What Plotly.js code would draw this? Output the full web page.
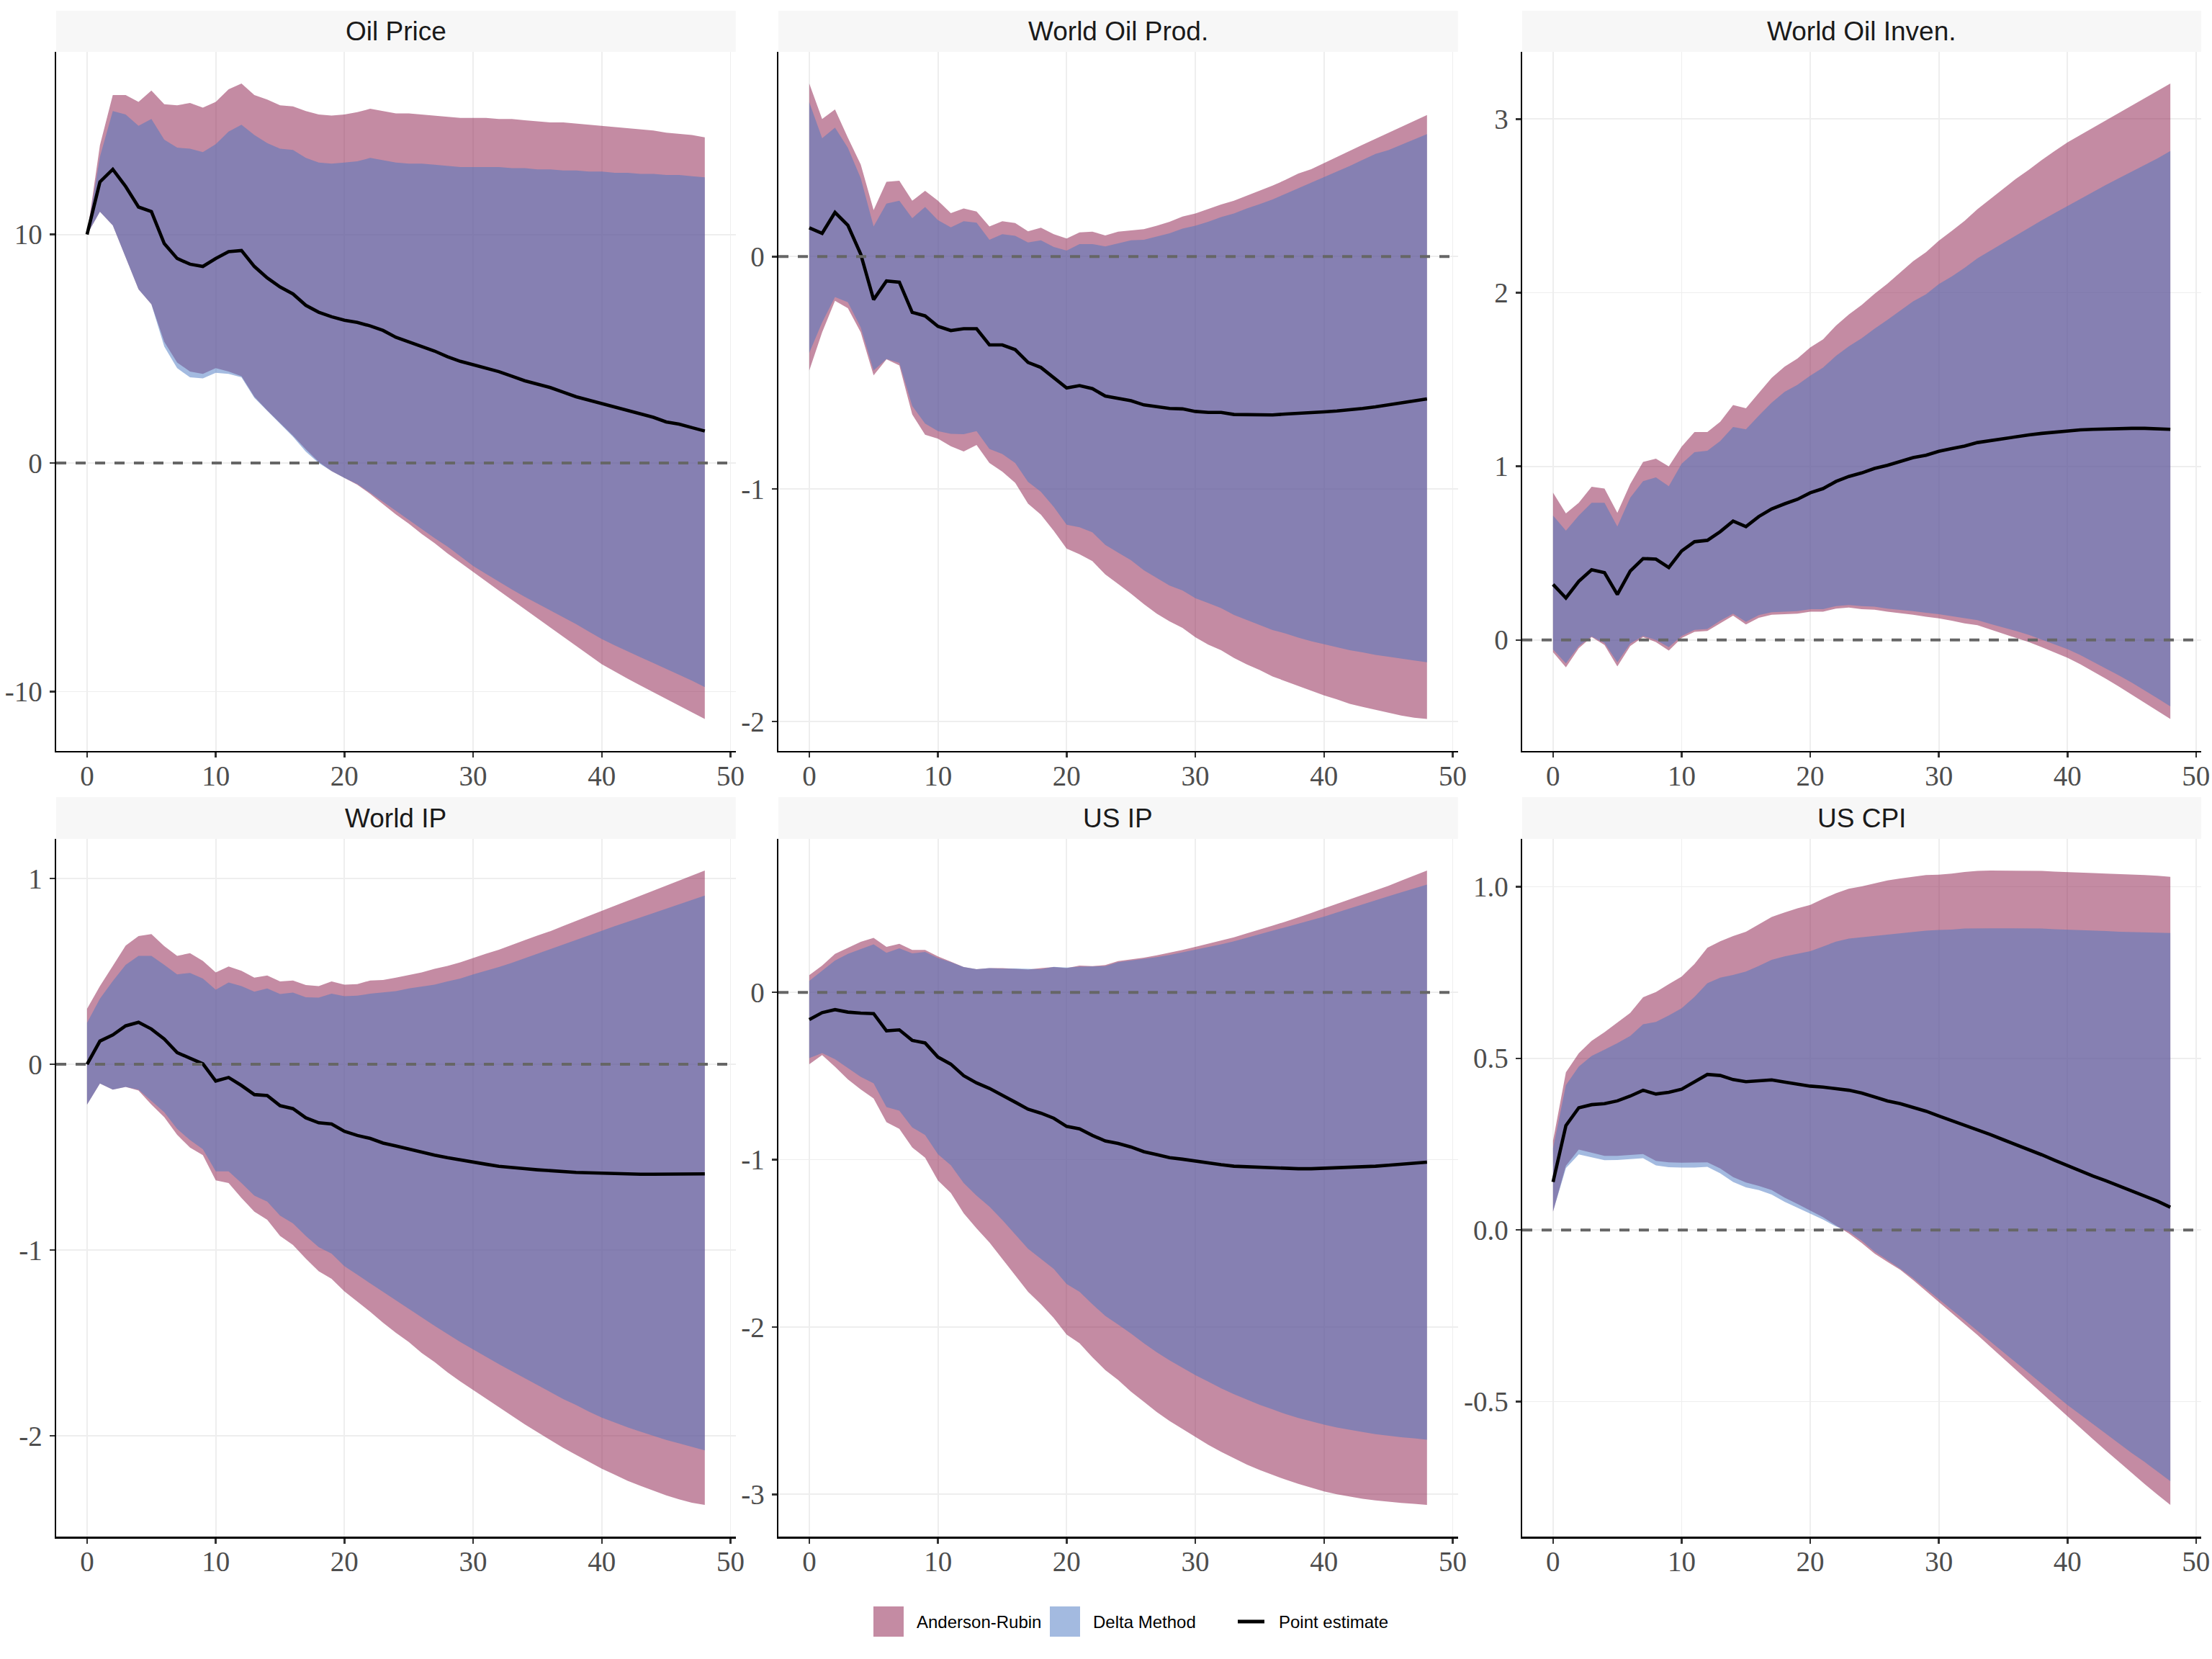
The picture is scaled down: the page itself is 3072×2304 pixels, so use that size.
<!DOCTYPE html>
<html><head><meta charset="utf-8">
<script src="https://cdn.plot.ly/plotly-3.0.1.min.js"></script>
<style>html,body{margin:0;padding:0;background:#fff;}#chart{width:3072px;height:2304px;}</style>
</head><body><div id="chart"></div>
<script>
// ---------------- DATA ----------------
const horizon = [0,1,2,3,4,5,6,7,8,9,10,11,12,13,14,15,16,17,18,19,20,21,22,23,24,25,26,27,28,29,30,31,32,33,34,35,36,37,38,39,40,41,42,43,44,45,46,47,48];
const xTickVals = [0,10,20,30,40,50];
const xTickText = ['0','10','20','30','40','50'];
const panelTitles = ['Oil Price','World Oil Prod.','World Oil Inven.','World IP','US IP','US CPI'];
const legendLabels = ['Anderson-Rubin','Delta Method','Point estimate'];

// Oil Price
const oilPrice_pt   = [10.0,12.3,12.85,12.1,11.2,11.0,9.6,8.95,8.7,8.6,8.95,9.25,9.3,8.6,8.1,7.7,7.4,6.9,6.6,6.4,6.25,6.15,6.0,5.8,5.5,5.3,5.1,4.9,4.65,4.45,4.3,4.15,4.0,3.8,3.6,3.45,3.3,3.1,2.9,2.75,2.6,2.45,2.3,2.15,2.0,1.8,1.7,1.55,1.4];
const oilPrice_arHi = [10.0,13.9,16.1,16.1,15.8,16.3,15.7,15.65,15.75,15.55,15.8,16.35,16.6,16.1,15.9,15.65,15.6,15.4,15.25,15.2,15.25,15.35,15.5,15.4,15.3,15.3,15.25,15.2,15.15,15.1,15.1,15.1,15.05,15.05,15.0,14.95,14.9,14.9,14.85,14.8,14.75,14.7,14.65,14.6,14.55,14.45,14.4,14.35,14.25];
const oilPrice_arLo = [10.0,11.0,10.4,9.0,7.6,6.95,5.3,4.4,4.0,3.9,4.15,4.0,3.8,2.9,2.3,1.75,1.2,0.6,0.05,-0.35,-0.65,-0.95,-1.35,-1.8,-2.25,-2.65,-3.1,-3.5,-3.95,-4.35,-4.75,-5.17,-5.58,-5.99,-6.4,-6.8,-7.2,-7.6,-7.99,-8.4,-8.8,-9.12,-9.43,-9.73,-10.03,-10.33,-10.62,-10.91,-11.2];
const oilPrice_dmHi = [10.0,13.4,15.4,15.25,14.75,15.05,14.15,13.8,13.75,13.6,13.95,14.5,14.8,14.35,14.0,13.75,13.7,13.35,13.15,13.1,13.15,13.2,13.35,13.25,13.15,13.1,13.1,13.05,13.0,12.95,12.95,12.95,12.95,12.9,12.9,12.85,12.85,12.8,12.8,12.75,12.75,12.7,12.7,12.65,12.65,12.6,12.6,12.55,12.5];
const oilPrice_dmLo = [10.0,11.0,10.4,9.0,7.6,6.95,5.1,4.15,3.75,3.7,3.95,3.9,3.75,2.85,2.3,1.72,1.15,0.5,0.0,-0.35,-0.65,-0.92,-1.3,-1.7,-2.1,-2.5,-2.9,-3.28,-3.65,-4.08,-4.5,-4.85,-5.2,-5.53,-5.85,-6.15,-6.45,-6.75,-7.05,-7.38,-7.7,-7.98,-8.25,-8.5,-8.75,-9.0,-9.25,-9.52,-9.8];
const oilPrice_tickVals = [-10,0,10];
const oilPrice_tickText = ['-10','0','10'];

// World Oil Prod.
const oilProd_pt   = [0.124,0.10,0.19,0.135,0.01,-0.185,-0.105,-0.11,-0.24,-0.255,-0.30,-0.318,-0.31,-0.31,-0.38,-0.38,-0.40,-0.455,-0.477,-0.52,-0.565,-0.555,-0.568,-0.60,-0.61,-0.62,-0.638,-0.646,-0.653,-0.655,-0.666,-0.67,-0.67,-0.679,-0.679,-0.679,-0.681,-0.677,-0.675,-0.672,-0.668,-0.664,-0.66,-0.653,-0.646,-0.638,-0.630,-0.621,-0.612];
const oilProd_arHi = [0.744,0.592,0.633,0.511,0.396,0.20,0.322,0.326,0.24,0.283,0.24,0.187,0.207,0.194,0.13,0.152,0.144,0.109,0.124,0.096,0.078,0.104,0.107,0.091,0.107,0.113,0.118,0.133,0.15,0.172,0.185,0.205,0.224,0.24,0.261,0.283,0.305,0.33,0.357,0.376,0.403,0.429,0.455,0.481,0.507,0.533,0.559,0.583,0.609];
const oilProd_arLo = [-0.49,-0.326,-0.19,-0.222,-0.326,-0.511,-0.442,-0.468,-0.679,-0.766,-0.783,-0.816,-0.838,-0.81,-0.888,-0.925,-0.973,-1.063,-1.11,-1.18,-1.256,-1.28,-1.31,-1.367,-1.408,-1.45,-1.495,-1.536,-1.569,-1.597,-1.637,-1.669,-1.693,-1.726,-1.754,-1.778,-1.806,-1.826,-1.845,-1.867,-1.887,-1.904,-1.924,-1.937,-1.95,-1.963,-1.974,-1.983,-1.989];
const oilProd_dmHi = [0.664,0.509,0.555,0.468,0.337,0.13,0.228,0.24,0.165,0.213,0.157,0.126,0.152,0.146,0.072,0.096,0.089,0.061,0.07,0.041,0.026,0.054,0.054,0.044,0.057,0.07,0.072,0.087,0.10,0.12,0.133,0.15,0.17,0.185,0.207,0.226,0.246,0.27,0.294,0.316,0.342,0.366,0.39,0.416,0.442,0.458,0.481,0.504,0.527];
const oilProd_dmLo = [-0.414,-0.283,-0.174,-0.196,-0.305,-0.49,-0.44,-0.457,-0.642,-0.718,-0.751,-0.762,-0.764,-0.751,-0.827,-0.849,-0.888,-0.969,-1.012,-1.077,-1.153,-1.164,-1.186,-1.24,-1.273,-1.306,-1.349,-1.382,-1.415,-1.436,-1.469,-1.49,-1.512,-1.541,-1.562,-1.584,-1.606,-1.621,-1.639,-1.654,-1.667,-1.68,-1.693,-1.702,-1.713,-1.721,-1.73,-1.737,-1.745];
const oilProd_tickVals = [-2,-1,0];
const oilProd_tickText = ['-2','-1','0'];

// World Oil Inven.
const oilInv_pt   = [0.32,0.242,0.338,0.405,0.388,0.262,0.397,0.469,0.466,0.417,0.513,0.566,0.574,0.624,0.685,0.653,0.711,0.755,0.784,0.81,0.848,0.872,0.913,0.942,0.962,0.988,1.006,1.029,1.05,1.064,1.087,1.102,1.117,1.137,1.149,1.16,1.172,1.181,1.19,1.198,1.204,1.21,1.213,1.216,1.219,1.219,1.219,1.216,1.213];
const oilInv_arHi = [0.848,0.729,0.79,0.883,0.872,0.732,0.898,1.026,1.044,1.0,1.114,1.198,1.198,1.257,1.353,1.335,1.423,1.51,1.574,1.621,1.685,1.732,1.81,1.875,1.93,1.994,2.052,2.117,2.181,2.233,2.3,2.356,2.414,2.481,2.539,2.595,2.656,2.708,2.764,2.816,2.866,2.908,2.95,2.993,3.035,3.077,3.12,3.162,3.204];
const oilInv_arLo = [-0.07,-0.157,-0.047,0.017,-0.029,-0.152,-0.035,0.017,-0.012,-0.061,0.012,0.047,0.052,0.096,0.14,0.09,0.128,0.146,0.149,0.152,0.163,0.163,0.181,0.187,0.178,0.175,0.163,0.155,0.146,0.134,0.125,0.111,0.096,0.085,0.061,0.038,0.015,-0.012,-0.041,-0.07,-0.102,-0.14,-0.181,-0.224,-0.268,-0.315,-0.362,-0.408,-0.455];
const oilInv_dmHi = [0.717,0.63,0.717,0.79,0.79,0.653,0.819,0.915,0.936,0.886,1.015,1.082,1.09,1.146,1.227,1.213,1.292,1.367,1.429,1.469,1.522,1.569,1.636,1.691,1.738,1.793,1.843,1.898,1.95,1.991,2.05,2.093,2.143,2.198,2.242,2.286,2.332,2.373,2.417,2.458,2.499,2.539,2.58,2.621,2.659,2.697,2.735,2.773,2.816];
const oilInv_dmLo = [-0.055,-0.134,-0.035,0.02,-0.017,-0.128,-0.02,0.023,0.0,-0.041,0.023,0.058,0.064,0.111,0.152,0.105,0.143,0.16,0.163,0.166,0.178,0.178,0.195,0.201,0.195,0.192,0.181,0.175,0.166,0.157,0.149,0.137,0.125,0.114,0.093,0.073,0.052,0.029,0.003,-0.023,-0.052,-0.087,-0.125,-0.163,-0.204,-0.245,-0.289,-0.335,-0.382];
const oilInv_tickVals = [0,1,2,3];
const oilInv_tickText = ['0','1','2','3'];

// World IP
const worldIP_pt   = [0,0.125,0.158,0.207,0.226,0.19,0.136,0.063,0.033,0.003,-0.09,-0.071,-0.114,-0.163,-0.168,-0.223,-0.239,-0.288,-0.315,-0.321,-0.361,-0.383,-0.399,-0.424,-0.44,-0.457,-0.476,-0.489,-0.503,-0.516,-0.527,-0.538,-0.549,-0.557,-0.562,-0.568,-0.573,-0.579,-0.582,-0.584,-0.587,-0.59,-0.59,-0.592,-0.592,-0.592,-0.592,-0.59,-0.59];
const worldIP_arHi = [0.299,0.421,0.53,0.639,0.69,0.701,0.636,0.584,0.598,0.557,0.495,0.527,0.503,0.467,0.478,0.446,0.451,0.427,0.421,0.446,0.429,0.432,0.451,0.454,0.467,0.481,0.495,0.514,0.53,0.549,0.573,0.595,0.617,0.644,0.668,0.693,0.717,0.745,0.772,0.799,0.826,0.853,0.88,0.908,0.935,0.962,0.989,1.016,1.043];
const worldIP_arLo = [-0.217,-0.103,-0.136,-0.122,-0.141,-0.217,-0.285,-0.38,-0.448,-0.489,-0.625,-0.639,-0.72,-0.793,-0.837,-0.924,-0.973,-1.046,-1.114,-1.155,-1.223,-1.277,-1.332,-1.391,-1.446,-1.495,-1.554,-1.603,-1.658,-1.707,-1.753,-1.802,-1.848,-1.894,-1.938,-1.981,-2.024,-2.065,-2.103,-2.141,-2.177,-2.209,-2.242,-2.269,-2.296,-2.321,-2.342,-2.361,-2.372];
const worldIP_dmHi = [0.223,0.353,0.448,0.535,0.584,0.584,0.535,0.484,0.492,0.462,0.402,0.44,0.421,0.391,0.408,0.378,0.386,0.361,0.359,0.38,0.367,0.37,0.38,0.386,0.394,0.408,0.418,0.429,0.446,0.462,0.484,0.503,0.524,0.546,0.571,0.595,0.62,0.644,0.671,0.696,0.72,0.744,0.767,0.79,0.814,0.838,0.861,0.885,0.908];
const worldIP_dmLo = [-0.217,-0.103,-0.136,-0.122,-0.136,-0.196,-0.258,-0.348,-0.408,-0.457,-0.576,-0.576,-0.639,-0.707,-0.739,-0.815,-0.856,-0.924,-0.984,-1.019,-1.087,-1.133,-1.179,-1.226,-1.272,-1.318,-1.364,-1.408,-1.451,-1.495,-1.535,-1.576,-1.614,-1.652,-1.69,-1.728,-1.766,-1.802,-1.834,-1.87,-1.902,-1.929,-1.954,-1.978,-2.0,-2.022,-2.041,-2.06,-2.079];
const worldIP_tickVals = [-2,-1,0,1];
const worldIP_tickText = ['-2','-1','0','1'];

// US IP
const usIP_pt   = [-0.163,-0.121,-0.103,-0.118,-0.124,-0.127,-0.23,-0.224,-0.287,-0.302,-0.387,-0.429,-0.498,-0.541,-0.574,-0.613,-0.656,-0.698,-0.722,-0.752,-0.801,-0.816,-0.855,-0.888,-0.903,-0.924,-0.952,-0.97,-0.988,-0.997,-1.009,-1.021,-1.03,-1.039,-1.042,-1.048,-1.051,-1.054,-1.054,-1.054,-1.051,-1.048,-1.048,-1.042,-1.039,-1.033,-1.027,-1.021,-1.015];
const usIP_arHi = [0.103,0.16,0.23,0.266,0.302,0.326,0.272,0.29,0.254,0.254,0.215,0.184,0.151,0.139,0.145,0.145,0.142,0.136,0.145,0.151,0.145,0.16,0.157,0.163,0.187,0.196,0.208,0.221,0.236,0.254,0.272,0.29,0.308,0.329,0.353,0.375,0.399,0.423,0.447,0.474,0.502,0.529,0.556,0.583,0.61,0.637,0.668,0.698,0.728];
const usIP_arLo = [-0.429,-0.375,-0.444,-0.52,-0.58,-0.634,-0.776,-0.816,-0.927,-0.988,-1.124,-1.199,-1.32,-1.411,-1.495,-1.592,-1.692,-1.789,-1.864,-1.946,-2.045,-2.097,-2.181,-2.257,-2.317,-2.387,-2.447,-2.508,-2.562,-2.61,-2.659,-2.704,-2.746,-2.785,-2.822,-2.855,-2.885,-2.912,-2.937,-2.961,-2.982,-3.0,-3.015,-3.027,-3.036,-3.045,-3.051,-3.057,-3.063];
const usIP_dmHi = [0.069,0.13,0.19,0.23,0.26,0.287,0.236,0.263,0.233,0.242,0.205,0.181,0.151,0.139,0.145,0.142,0.143,0.14,0.139,0.153,0.148,0.154,0.154,0.157,0.181,0.19,0.199,0.211,0.224,0.239,0.254,0.269,0.287,0.305,0.326,0.347,0.366,0.387,0.408,0.432,0.453,0.477,0.502,0.526,0.55,0.574,0.598,0.622,0.644];
const usIP_dmLo = [-0.393,-0.363,-0.399,-0.453,-0.505,-0.544,-0.686,-0.707,-0.807,-0.852,-0.967,-1.033,-1.139,-1.215,-1.281,-1.36,-1.444,-1.532,-1.592,-1.653,-1.743,-1.789,-1.864,-1.934,-1.985,-2.039,-2.097,-2.151,-2.199,-2.242,-2.287,-2.326,-2.366,-2.402,-2.435,-2.465,-2.492,-2.52,-2.544,-2.565,-2.583,-2.601,-2.616,-2.628,-2.64,-2.65,-2.659,-2.665,-2.674];
const usIP_tickVals = [-3,-2,-1,0];
const usIP_tickText = ['-3','-2','-1','0'];

// US CPI
const usCPI_pt   = [0.14,0.304,0.356,0.365,0.368,0.376,0.39,0.407,0.396,0.401,0.41,0.431,0.453,0.45,0.438,0.432,0.434,0.437,0.431,0.425,0.419,0.416,0.412,0.407,0.399,0.387,0.376,0.368,0.357,0.346,0.332,0.319,0.306,0.293,0.278,0.263,0.249,0.234,0.219,0.203,0.187,0.172,0.157,0.143,0.128,0.113,0.099,0.084,0.066];
const usCPI_arHi = [0.26,0.459,0.515,0.551,0.576,0.604,0.632,0.678,0.693,0.716,0.738,0.775,0.822,0.841,0.856,0.869,0.89,0.912,0.925,0.937,0.947,0.965,0.981,0.994,1.001,1.009,1.018,1.024,1.029,1.034,1.035,1.038,1.043,1.046,1.047,1.047,1.046,1.046,1.046,1.044,1.043,1.041,1.04,1.038,1.037,1.035,1.034,1.032,1.029];
const usCPI_arLo = [0.054,0.187,0.234,0.225,0.216,0.216,0.219,0.221,0.201,0.197,0.196,0.196,0.197,0.179,0.154,0.138,0.128,0.116,0.094,0.076,0.057,0.037,0.013,-0.01,-0.038,-0.069,-0.093,-0.116,-0.146,-0.178,-0.21,-0.24,-0.272,-0.306,-0.34,-0.374,-0.407,-0.441,-0.475,-0.509,-0.543,-0.576,-0.61,-0.643,-0.676,-0.709,-0.74,-0.771,-0.801];
const usCPI_dmHi = [0.238,0.422,0.476,0.507,0.525,0.544,0.565,0.599,0.606,0.625,0.646,0.679,0.719,0.735,0.743,0.753,0.769,0.787,0.797,0.804,0.812,0.826,0.84,0.849,0.853,0.856,0.86,0.865,0.869,0.872,0.874,0.875,0.878,0.879,0.879,0.879,0.879,0.878,0.878,0.876,0.875,0.874,0.872,0.871,0.869,0.868,0.868,0.866,0.865];
const usCPI_dmLo = [0.054,0.18,0.22,0.212,0.203,0.204,0.207,0.209,0.188,0.183,0.182,0.182,0.184,0.165,0.14,0.124,0.116,0.103,0.082,0.065,0.048,0.03,0.01,-0.005,-0.031,-0.063,-0.088,-0.113,-0.141,-0.171,-0.203,-0.232,-0.263,-0.294,-0.325,-0.356,-0.387,-0.418,-0.449,-0.479,-0.51,-0.538,-0.566,-0.594,-0.622,-0.65,-0.676,-0.704,-0.732];
const usCPI_tickVals = [-0.5,0,0.5,1.0];
const usCPI_tickText = ['-0.5','0.0','0.5','1.0'];

// ---------------- STYLE ----------------
const W = 3072, H = 2304;
const AR_FILL = 'rgba(137,23,71,0.5)';
const DM_FILL = 'rgba(71,117,193,0.5)';
const colPx = [[78,1021.7],[1081,2024.7],[2114,3057]];
const rowPx = [[72,1042.7],[1165,2134]];
const stripPx = [[15,72],[1107,1165]];
const SERIF = 'Liberation Serif';
const SANS = 'Liberation Sans';

const panels = [
  {pt:oilPrice_pt, arHi:oilPrice_arHi, arLo:oilPrice_arLo, dmHi:oilPrice_dmHi, dmLo:oilPrice_dmLo, tv:oilPrice_tickVals, tt:oilPrice_tickText},
  {pt:oilProd_pt, arHi:oilProd_arHi, arLo:oilProd_arLo, dmHi:oilProd_dmHi, dmLo:oilProd_dmLo, tv:oilProd_tickVals, tt:oilProd_tickText},
  {pt:oilInv_pt, arHi:oilInv_arHi, arLo:oilInv_arLo, dmHi:oilInv_dmHi, dmLo:oilInv_dmLo, tv:oilInv_tickVals, tt:oilInv_tickText},
  {pt:worldIP_pt, arHi:worldIP_arHi, arLo:worldIP_arLo, dmHi:worldIP_dmHi, dmLo:worldIP_dmLo, tv:worldIP_tickVals, tt:worldIP_tickText},
  {pt:usIP_pt, arHi:usIP_arHi, arLo:usIP_arLo, dmHi:usIP_dmHi, dmLo:usIP_dmLo, tv:usIP_tickVals, tt:usIP_tickText},
  {pt:usCPI_pt, arHi:usCPI_arHi, arLo:usCPI_arLo, dmHi:usCPI_dmHi, dmLo:usCPI_dmLo, tv:usCPI_tickVals, tt:usCPI_tickText}
];

const traces = [];
const layout = {
  width: W, height: H,
  margin: {l:0, r:0, t:0, b:0},
  paper_bgcolor: '#ffffff', plot_bgcolor: '#ffffff',
  showlegend: false,
  shapes: [], annotations: []
};

const xmin = Math.min(...horizon), xmax = Math.max(...horizon);
const xpad = (xmax - xmin) * 0.05;

panels.forEach((p, i) => {
  const r = Math.floor(i / 3), c = i % 3;
  const n = i + 1;
  const xa = n === 1 ? 'x' : 'x' + n;
  const ya = n === 1 ? 'y' : 'y' + n;
  const xk = n === 1 ? 'xaxis' : 'xaxis' + n;
  const yk = n === 1 ? 'yaxis' : 'yaxis' + n;
  const base = {x: horizon, xaxis: xa, yaxis: ya, type: 'scatter', mode: 'lines', hoverinfo: 'skip'};
  traces.push(Object.assign({}, base, {y: p.arLo, line: {width: 0, color: 'rgba(0,0,0,0)'}}));
  traces.push(Object.assign({}, base, {y: p.arHi, line: {width: 0, color: 'rgba(0,0,0,0)'}, fill: 'tonexty', fillcolor: AR_FILL}));
  traces.push(Object.assign({}, base, {y: p.dmLo, line: {width: 0, color: 'rgba(0,0,0,0)'}}));
  traces.push(Object.assign({}, base, {y: p.dmHi, line: {width: 0, color: 'rgba(0,0,0,0)'}, fill: 'tonexty', fillcolor: DM_FILL}));
  traces.push(Object.assign({}, base, {y: p.pt, line: {width: 4.6, color: '#000000'}}));

  const all = [].concat(p.pt, p.arHi, p.arLo, p.dmHi, p.dmLo);
  const ymin = Math.min(...all), ymax = Math.max(...all);
  const ypad = (ymax - ymin) * 0.05;

  const xd = [colPx[c][0] / W, colPx[c][1] / W];
  const yd = [1 - rowPx[r][1] / H, 1 - rowPx[r][0] / H];
  const axCommon = {
    showline: true, linecolor: '#000000', linewidth: 2.5,
    ticks: 'outside', ticklen: 7, tickwidth: 2.5, tickcolor: '#333333',
    showgrid: true, gridcolor: '#EEEEEE', gridwidth: 1.8,
    zeroline: false, tickmode: 'array',
    tickfont: {family: SERIF, size: 39, color: '#4D4D4D'},
    fixedrange: true
  };
  layout[xk] = Object.assign({}, axCommon, {
    domain: xd, anchor: ya, range: [xmin - xpad, xmax + xpad],
    tickvals: xTickVals, ticktext: xTickText, ticklabelstandoff: -8
  });
  layout[yk] = Object.assign({}, axCommon, {
    domain: yd, anchor: xa, range: [ymin - ypad, ymax + ypad],
    tickvals: p.tv, ticktext: p.tt, ticklabelstandoff: 2
  });

  // zero reference line
  layout.shapes.push({
    type: 'line', xref: xa + ' domain', yref: ya, x0: 0, x1: 1, y0: 0, y1: 0,
    line: {color: '#666666', width: 4, dash: '14px,13px'}, layer: 'above'
  });
  // strip background
  layout.shapes.push({
    type: 'rect', xref: 'paper', yref: 'paper',
    x0: xd[0], x1: xd[1], y0: 1 - stripPx[r][1] / H, y1: 1 - stripPx[r][0] / H,
    fillcolor: '#F7F7F7', line: {width: 0}, layer: 'below'
  });
  layout.annotations.push({
    xref: 'paper', yref: 'paper', x: (xd[0] + xd[1]) / 2,
    y: 1 - (stripPx[r][0] + stripPx[r][1]) / 2 / H,
    xanchor: 'center', yanchor: 'middle', showarrow: false,
    text: panelTitles[i], font: {family: SANS, size: 37, color: '#1A1A1A'}
  });
});

// legend (drawn manually to match keys)
const legY = 2252;
const keyRects = [[1213, 1255, AR_FILL], [1458, 1500, DM_FILL]];
keyRects.forEach(k => {
  layout.shapes.push({type: 'rect', xref: 'paper', yref: 'paper',
    x0: k[0] / W, x1: k[1] / W, y0: 1 - 2273 / H, y1: 1 - 2231 / H,
    fillcolor: k[2], line: {width: 0}});
});
layout.shapes.push({type: 'line', xref: 'paper', yref: 'paper',
  x0: 1719 / W, x1: 1756 / W, y0: 1 - legY / H, y1: 1 - legY / H,
  line: {color: '#000000', width: 5}});
const legTextX = [1271, 1516, 1774];
legendLabels.forEach((t, j) => {
  layout.annotations.push({xref: 'paper', yref: 'paper', x: legTextX[j] / W, y: 1 - legY / H,
    xanchor: 'left', yanchor: 'middle', showarrow: false, text: t,
    font: {family: SANS, size: 24, color: '#000000'}});
});

Plotly.newPlot('chart', traces, layout, {staticPlot: true, displayModeBar: false});
</script>
</body></html>
